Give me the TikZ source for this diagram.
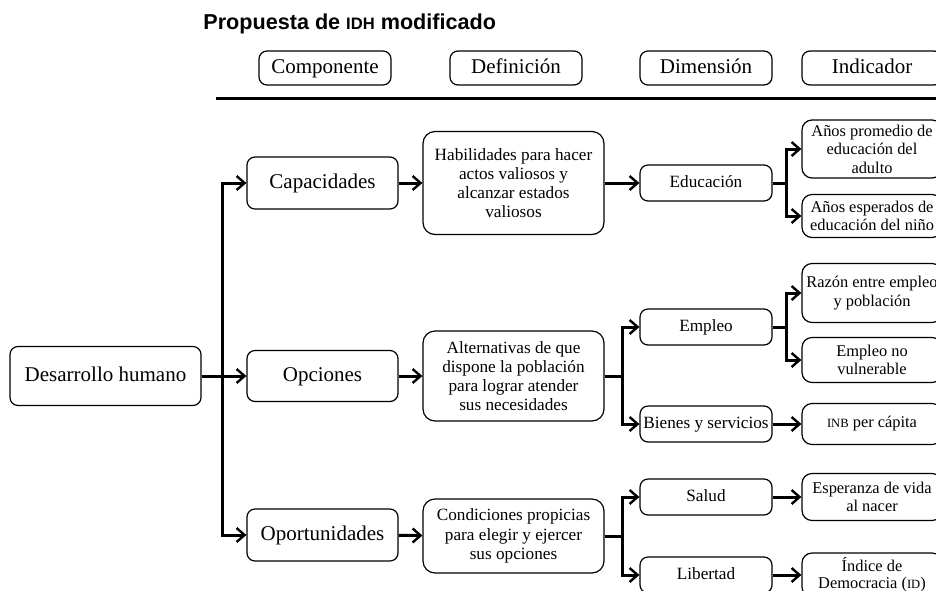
\documentclass[tikz,border=0pt]{standalone}
\usepackage{fontspec}
\setmainfont{Liberation Serif}
\newfontfamily\titlefont{Liberation Sans}
\usepackage{tikz}
\usetikzlibrary{arrows.meta}
\usetikzlibrary{positioning}

\begin{document}
\begin{tikzpicture}
    [
    x=0.5pt, y=-0.5pt,
    box/.style={draw,rounded corners=4pt,line width=0.6pt,inner sep=0pt,align=center},
    big/.style={box,font=\fontsize{10.5}{12}\selectfont,text height=7.6pt,text depth=2.4pt},
    small/.style={box,font=\fontsize{8.6}{9.6}\selectfont},
    defbox/.style={small,rounded corners=6pt,minimum width=90.5pt},
    dimbox/.style={small,minimum width=66pt,minimum height=18pt,text height=6.3pt,text depth=2pt},
    indbox/.style={small,rounded corners=5pt,minimum width=70pt,font=\fontsize{8.2}{9.3}\selectfont},
    head/.style={big,minimum width=66pt,minimum height=17pt},
    arr/.style={line width=1.5pt,-{Straight Barb[length=4pt,width=7pt,line width=1.2pt]}},
    ]
    \useasboundingbox (0,0) rectangle (936,590);

    \node (ttl) at (203,29) [anchor=base west,inner sep=0pt,font=\titlefont\bfseries\fontsize{10.8}{13}\selectfont]
        {Propuesta de {\fontsize{8.3}{10}\selectfont IDH} modificado};
    \node (hcomp) at (325,68) [head] {Componente};
    \node (hdef) at (516,68) [head] {Definición};
    \node (hdim) at (706,68) [head] {Dimensión};
    \node (hind) at (872,68) [head,minimum width=70pt] {Indicador};
    \coordinate (r1) at (216,98);
    \coordinate (r2) at (936,98);
    \draw [line width=1.5pt] (r1) -- (r2);

    \node (dh) at (105.5,376) [big,minimum width=95.5pt,minimum height=29.5pt] {Desarrollo humano};
    \node (cap) at (322.5,183) [big,minimum width=75.5pt,minimum height=26pt] {Capacidades};
    \node (opc) at (322.5,376) [big,minimum width=75.5pt,minimum height=25.5pt] {Opciones};
    \node (opo) at (322.5,535) [big,minimum width=75.5pt,minimum height=26pt] {Oportunidades};

    \node (hab) at (513.5,183) [defbox,minimum height=51.5pt]
        {Habilidades para hacer\\actos valiosos y\\alcanzar estados\\valiosos};
    \node (alt) at (513.5,376) [defbox,minimum height=45pt]
        {Alternativas de que\\dispone la población\\para lograr atender\\sus necesidades};
    \node (cond) at (513.5,536) [defbox,minimum height=37pt]
        {Condiciones propicias\\para elegir y ejercer\\sus opciones};

    \node (edu) at (706,183) [dimbox] {Educación};
    \node (emp) at (706,327) [dimbox] {Empleo};
    \node (bie) at (706,424) [dimbox] {Bienes y servicios};
    \node (sal) at (706,497) [dimbox] {Salud};
    \node (lib) at (706,575) [dimbox] {Libertad};

    \node (prom) at (872,149) [indbox,minimum height=29pt] {Años promedio de\\educación del\\adulto};
    \node (esp) at (872,216) [indbox,minimum height=21.5pt] {Años esperados de\\educación del niño};
    \node (raz) at (872,293) [indbox,minimum height=29.5pt] {Razón entre empleo\\y población};
    \node (vul) at (872,360) [indbox,minimum height=22.5pt] {Empleo no\\vulnerable};
    \node (inb) at (872,424) [indbox,minimum height=20.5pt] {{\fontsize{6.3}{8}\selectfont INB} per cápita};
    \node (vida) at (872,497) [indbox,minimum height=23.5pt] {Esperanza de vida\\al nacer};
    \node (dem) at (872,575) [indbox,minimum height=22pt,font=\fontsize{8.2}{8.6}\selectfont]
        {Índice de\\Democracia ({\fontsize{6.3}{8}\selectfont ID})};

    \coordinate (s0) at (222,376);
    \coordinate (s1) at (786,183);
    \coordinate (s2) at (622,376);
    \coordinate (s3) at (786,327);
    \coordinate (s4) at (622,536);

    \draw [arr] (dh) -- (opc);
    \draw [arr] (s0) |- (cap);
    \draw [arr] (s0) |- (opo);
    \draw [arr] (cap) -- (hab);
    \draw [arr] (opc) -- (alt);
    \draw [arr] (opo) -- (cond);

    \draw [arr] (hab) -- (edu);
    \draw [line width=1.5pt] (alt) -- (s2);
    \draw [arr] (s2) |- (emp);
    \draw [arr] (s2) |- (bie);
    \draw [line width=1.5pt] (cond) -- (s4);
    \draw [arr] (s4) |- (sal);
    \draw [arr] (s4) |- (lib);

    \draw [line width=1.5pt] (edu) -- (s1);
    \draw [arr] (s1) |- (prom);
    \draw [arr] (s1) |- (esp);
    \draw [line width=1.5pt] (emp) -- (s3);
    \draw [arr] (s3) |- (raz);
    \draw [arr] (s3) |- (vul);
    \draw [arr] (bie) -- (inb);
    \draw [arr] (sal) -- (vida);
    \draw [arr] (lib) -- (dem);
\end{tikzpicture}
\end{document}
